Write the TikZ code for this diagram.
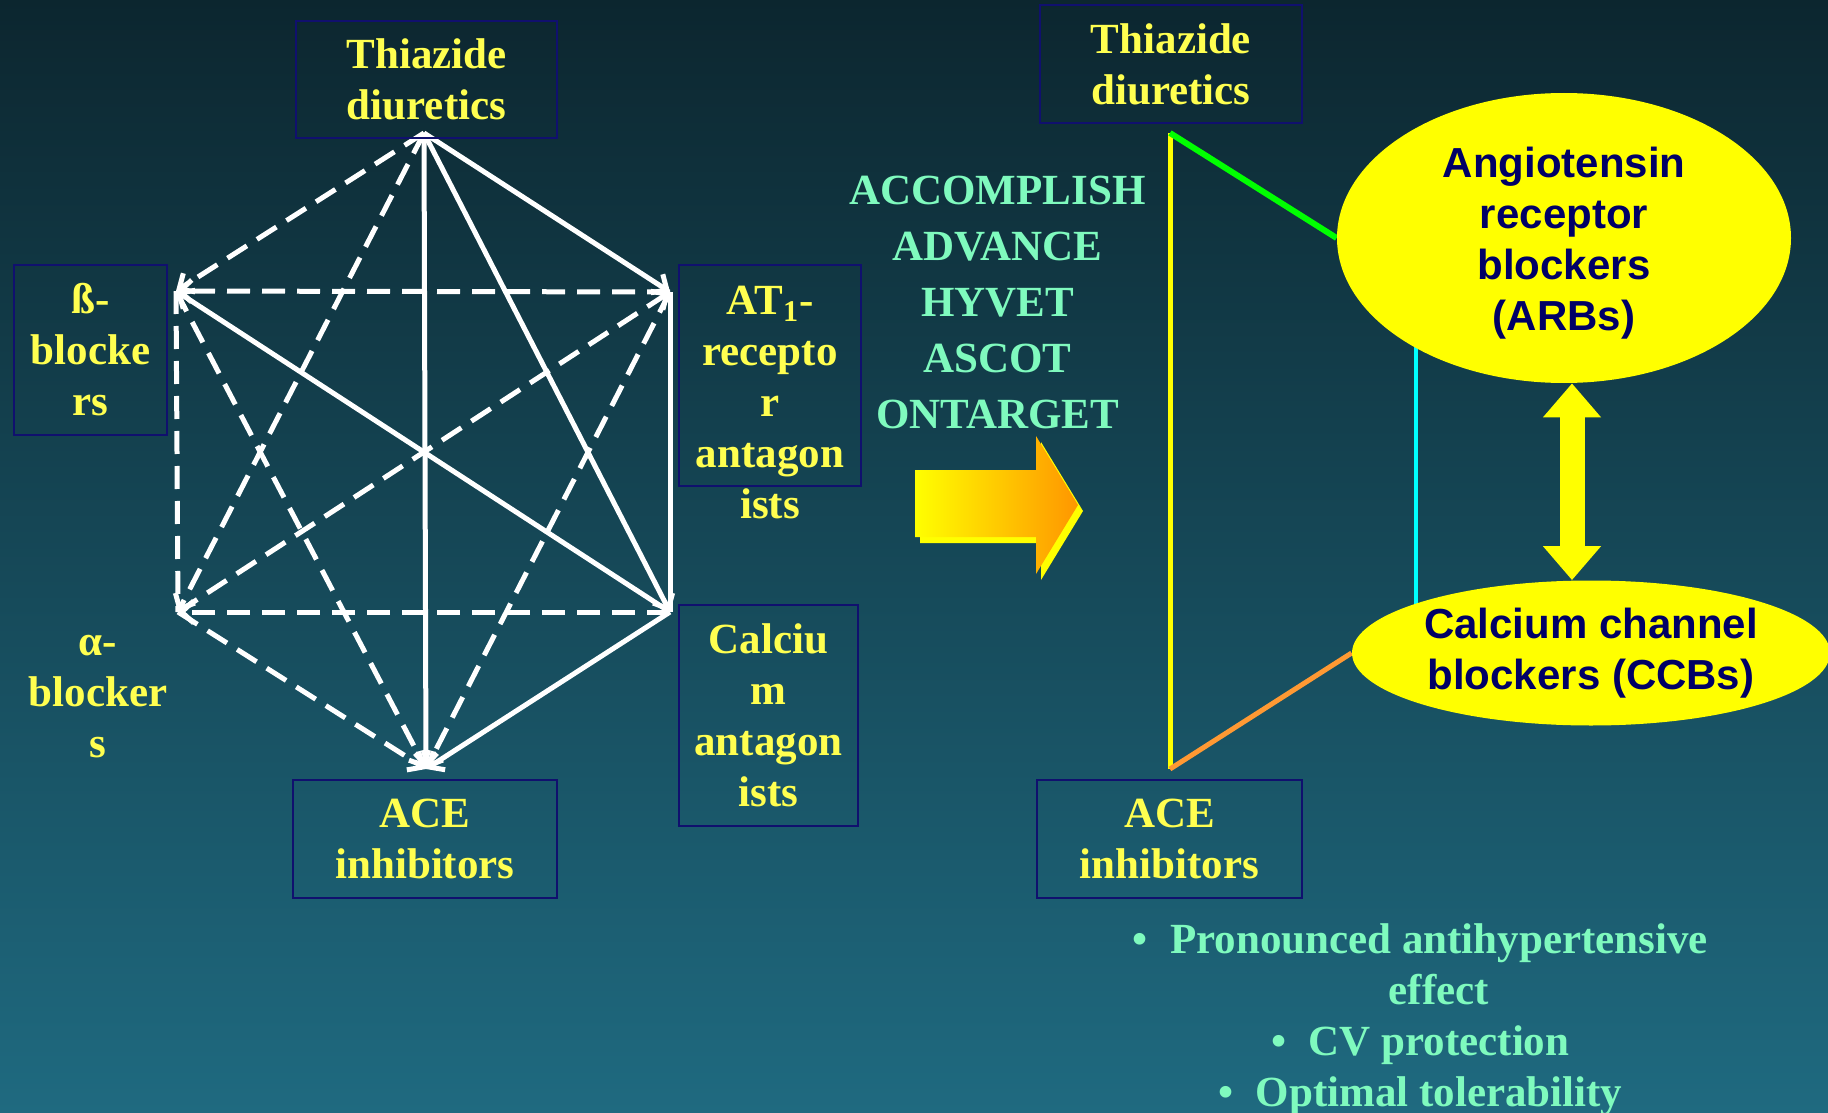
\documentclass[tikz,border=0pt]{standalone}
\usepackage{fontspec}
\setmainfont{Liberation Serif}
\newfontfamily\arialf{Liberation Sans}
\usepackage{tikz}
\usetikzlibrary{arrows.meta,shapes.geometric}
\definecolor{bgtop}{RGB}{12,38,47}
\definecolor{bgbot}{RGB}{31,106,128}
\definecolor{boxline}{RGB}{16,16,110}
\definecolor{txtyel}{RGB}{255,255,80}
\definecolor{txtaqua}{RGB}{127,250,190}
\definecolor{navy}{RGB}{0,0,102}
\definecolor{fillyel}{RGB}{255,255,0}
\definecolor{lngreen}{RGB}{0,255,0}
\definecolor{lncyan}{RGB}{0,255,255}
\definecolor{lnorange}{RGB}{255,153,51}
\definecolor{arrorange}{RGB}{255,150,0}
\pgfdeclarelayer{bg}
\pgfdeclarelayer{wires}
\pgfsetlayers{bg,wires,main}

\begin{document}
\begin{tikzpicture}[x=0.5pt,y=-0.5pt,
    drugbox/.style={draw=boxline,line width=0.8pt,inner sep=0pt},
    ytxt/.style={text=txtyel,align=center,font=\fontsize{21.5}{25.5}\selectfont\bfseries},
    gtxt/.style={text=txtaqua,align=center,font=\fontsize{21.5}{25.5}\selectfont\bfseries},
    etxt/.style={ellipse,fill=fillyel,inner sep=0pt,text=navy,align=center,font=\arialf\fontsize{21}{25.5}\selectfont\bfseries},
    hexsolid/.style={white,line width=2.5pt},
    hexdash/.style={white,line width=2.5pt,dash pattern=on 11.5pt off 6pt},
    >={Straight Barb[length=6pt,width=11pt]}]
    % Nền
    \begin{pgfonlayer}{bg}
        \shade[top color=bgtop,bottom color=bgbot] (0,0) rectangle (1828,1113);
    \end{pgfonlayer}
    \useasboundingbox (0,0) rectangle (1828,1113);
    % Các đỉnh lục giác
    \coordinate (thz) at (424,133);
    \coordinate (bet) at (176,291);
    \coordinate (atr) at (670,292);
    \coordinate (alp) at (178,612);
    \coordinate (cal) at (670,612);
    \coordinate (ace) at (426,769);
    % Cạnh liền
    \draw[hexsolid,->] (thz) -- (atr);
    \draw[hexsolid,->] (thz) -- (cal);
    \draw[hexsolid,->] (thz) -- (ace);
    \draw[hexsolid] (atr) -- (cal);
    \draw[hexsolid,->] (cal) -- (ace);
    \draw[hexsolid,->] (cal) -- (bet);
    % Cạnh nét đứt
    \draw[hexdash,->] (thz) -- (bet);
    \draw[hexdash,->] (atr) -- (bet);
    \draw[hexdash,->] (thz) -- (alp);
    \draw[hexdash] (bet) -- (alp);
    \draw[hexdash,->] (cal) -- (alp);
    \draw[hexdash,->] (alp) -- (atr);
    \draw[hexdash,->] (bet) -- (ace);
    \draw[hexdash,->] (atr) -- (ace);
    \draw[hexdash,->] (alp) -- (ace);
    % Các nhóm thuốc
    \node[drugbox,ytxt,minimum width=130.5pt,minimum height=58.5pt] (thzbox) at (426.5,79.5) {Thiazide\\diuretics};
    \node[drugbox,ytxt,minimum width=76.5pt,minimum height=85pt] (betbox) at (90.5,350) {ß-\\blocke\\rs};
    \node[drugbox,minimum width=91pt,minimum height=110.5pt] (atrbox) at (770,375.5) {};
    \node[ytxt] (atrtxt) at (770,403) {AT\textsubscript{1}-\\recepto\\r\\antagon\\ists};
    \node[drugbox,ytxt,minimum width=89.5pt,minimum height=110.5pt] (calbox) at (768.5,715.5) {Calciu\\m\\antagon\\ists};
    \node[ytxt] (alptxt) at (98,697) {α-\\blocker\\s};
    \node[drugbox,ytxt,minimum width=132pt,minimum height=59pt] (acebox) at (425,839) {ACE\\inhibitors};
    % Các thử nghiệm
    \node[gtxt,font=\fontsize{21.5}{28}\selectfont\bfseries] (trials) at (997.5,302) {ACCOMPLISH\\ADVANCE\\HYVET\\ASCOT\\ONTARGET};
    % Mũi tên lớn
    \fill[fillyel] (920,476) -- (1041,476) -- (1041,442) -- (1083,511) -- (1041,580) -- (1041,543) -- (920,543) -- cycle;
    \shade[left color=fillyel,right color=arrorange] (915,470) -- (1036,470) -- (1036,436) -- (1078,505) -- (1036,574) -- (1036,537) -- (915,537) -- cycle;
    % Tam giác bên phải
    \coordinate (rthz) at (1170,133);
    \coordinate (race) at (1170,769);
    \coordinate (cyx) at (1416,0);
    \coordinate (dblx) at (1572,0);
    \node[drugbox,ytxt,minimum width=131pt,minimum height=59pt] (thzbox2) at (1171,64) {Thiazide\\diuretics};
    \node[drugbox,ytxt,minimum width=132.5pt,minimum height=59pt] (acebox2) at (1169.5,839) {ACE\\inhibitors};
    \node[etxt,minimum width=227pt,minimum height=145pt] (arb) at (1564,238) {\rule{0pt}{20pt}Angiotensin\\receptor\\blockers\\(ARBs)};
    \node[etxt,minimum width=239pt,minimum height=72.5pt] (ccb) at (1591,653) {Calcium channel\\blockers (CCBs)};
    \begin{pgfonlayer}{wires}
        \draw[fillyel,line width=2.5pt] (rthz) -- (race);
        \draw[lngreen,line width=3pt] (rthz) -- (arb.west);
        \draw[lnorange,line width=2.5pt] (race) -- (ccb.west);
        \draw[lncyan,line width=2pt] (cyx |- arb) -- (cyx |- ccb);
    \end{pgfonlayer}
    % Mũi tên hai chiều
    \draw[fillyel,line width=12.5pt,{Triangle[length=17pt,width=28pt]}-{Triangle[length=17pt,width=28pt]}] (arb.south -| dblx) -- (ccb.north -| dblx);
    % Lợi ích
    \node[gtxt] (gains) at (1439,1020) {\llap{\textbullet\hspace{11pt}}Pronounced antihypertensive\\effect\\\llap{\textbullet\hspace{11pt}}CV protection\\\llap{\textbullet\hspace{11pt}}Optimal tolerability};
\end{tikzpicture}
\end{document}
